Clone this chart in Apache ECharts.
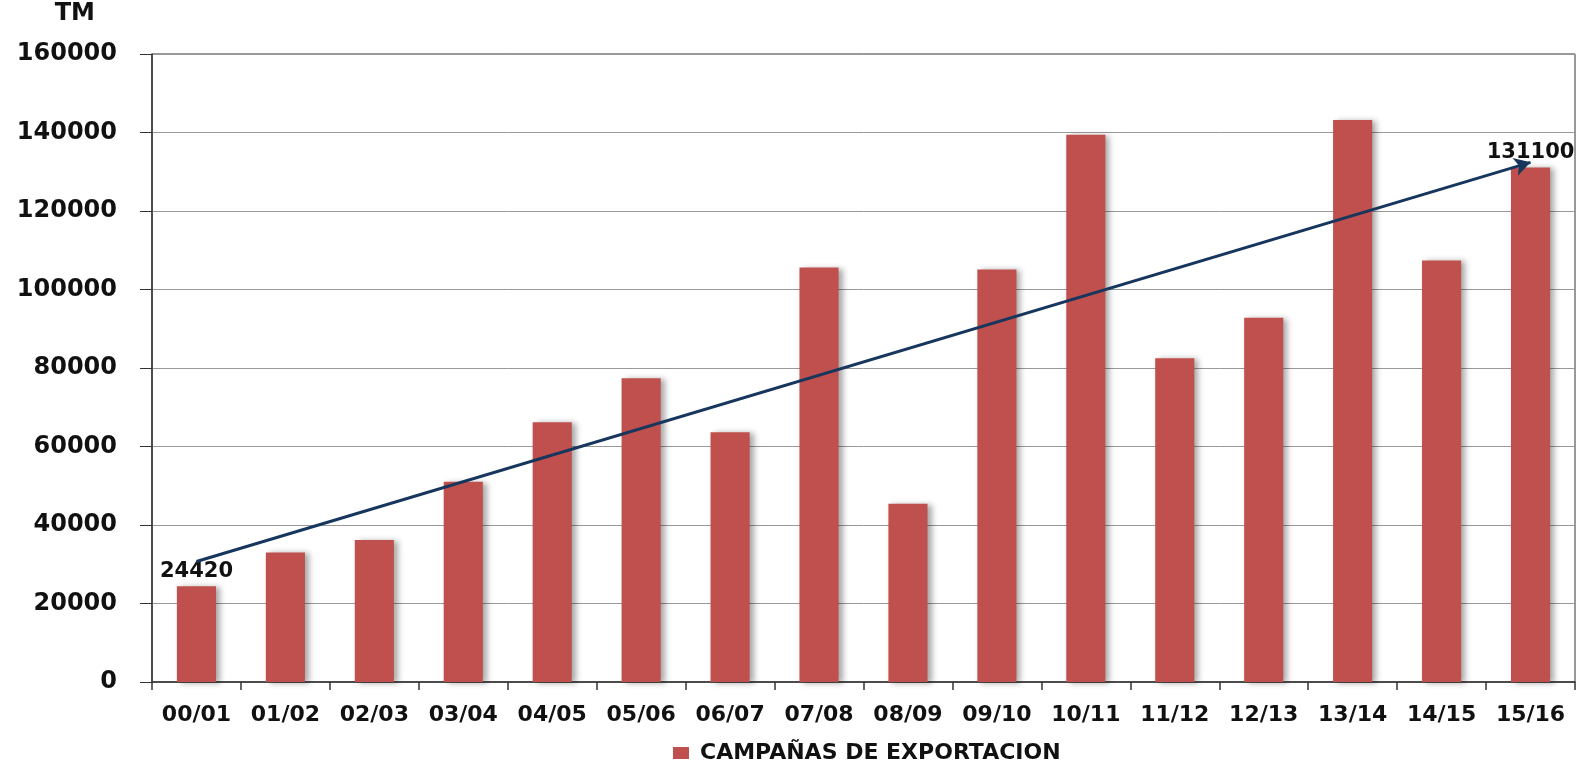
<!DOCTYPE html>
<html>
<head>
<meta charset="utf-8">
<script src="https://cdn.jsdelivr.net/npm/echarts@6/dist/echarts.min.js"></script>
<style>
  html, body { margin: 0; padding: 0; background: #fff; }
  #chart { width: 1577px; height: 761px; }
</style>
</head>
<body>
<div id="chart"></div>
<script>
// campañas y toneladas exportadas
var campanas = ['00/01', '01/02', '02/03', '03/04', '04/05', '05/06', '06/07', '07/08',
  '08/09', '09/10', '10/11', '11/12', '12/13', '13/14', '14/15', '15/16'];
var toneladas = [24420, 33000, 36200, 51000, 66200, 77400, 63600, 105600,
  45400, 105100, 139400, 82500, 92800, 143200, 107400, 131100];
// linea de tendencia (inicio / fin)
var tendenciaInicio = 30700;
var tendenciaFin = 132400;
var yTicks = [0, 20000, 40000, 60000, 80000, 100000, 120000, 140000, 160000];

function grafico() {
  var myChart = echarts.init(document.getElementById('chart'));
  var fuente = 'DejaVu Sans';
  var barData = toneladas.map(function (v, i) {
    var item = { value: v };
    if (i === 0 || i === toneladas.length - 1) {
      item.label = { show: true };
    }
    return item;
  });
  var option = {
    animation: false,
    textStyle: { fontFamily: fuente },
    grid: { left: 152, right: 2, top: 54, bottom: 79, show: true, borderColor: '#333', borderWidth: 1 },
    legend: {
      top: 737,
      left: 668,
      icon: 'rect',
      itemWidth: 16,
      itemHeight: 12,
      data: ['CAMPAÑAS DE EXPORTACION'],
      textStyle: { fontSize: 22, fontWeight: 'bold', color: '#111', fontFamily: fuente, padding: [0, 0, 0, 6] }
    },
    xAxis: {
      type: 'category',
      data: campanas,
      axisLine: { lineStyle: { color: '#333', width: 1.5 } },
      axisTick: { show: true, length: 8, lineStyle: { color: '#333', width: 1.5 } },
      axisLabel: { margin: 22, fontSize: 22, fontWeight: 'bold', color: '#111', interval: 0 }
    },
    yAxis: {
      type: 'value',
      min: yTicks[0],
      max: yTicks[yTicks.length - 1],
      interval: 20000,
      name: 'TM',
      nameLocation: 'end',
      nameGap: 28,
      nameTextStyle: { fontSize: 24, fontWeight: 'bold', color: '#111', align: 'right', padding: [0, 57, 0, 0] },
      axisLine: { show: true, lineStyle: { color: '#333', width: 1.5 } },
      axisTick: { show: true, length: 12, lineStyle: { color: '#333' } },
      splitLine: { show: true, lineStyle: { color: '#999', width: 1 } },
      axisLabel: {
        margin: 35, fontSize: 24, fontWeight: 'bold', color: '#111',
        formatter: function (value) { return String(value); }
      }
    },
    series: [
      {
        name: 'CAMPAÑAS DE EXPORTACION',
        type: 'bar',
        barWidth: '44%',
        data: barData,
        itemStyle: {
          color: '#C0504D',
          shadowBlur: 6,
          shadowOffsetX: 4,
          shadowOffsetY: 1,
          shadowColor: 'rgba(0,0,0,0.35)'
        },
        label: {
          show: false,
          position: 'top',
          distance: 4,
          fontSize: 21,
          fontWeight: 'bold',
          color: '#111'
        },
        markLine: {
          silent: true,
          symbol: ['none', 'arrow'],
          symbolSize: [14, 16],
          label: { show: false },
          lineStyle: { color: '#17365D', width: 3, type: 'solid' },
          data: [[
            { coord: [campanas[0], tendenciaInicio] },
            { coord: [campanas[campanas.length - 1], tendenciaFin] }
          ]]
        }
      }
    ]
  };
  myChart.clear();
  myChart.setOption(option);
  window.addEventListener('resize', function () {
    myChart.resize();
  });
}
grafico();
</script>
</body>
</html>
